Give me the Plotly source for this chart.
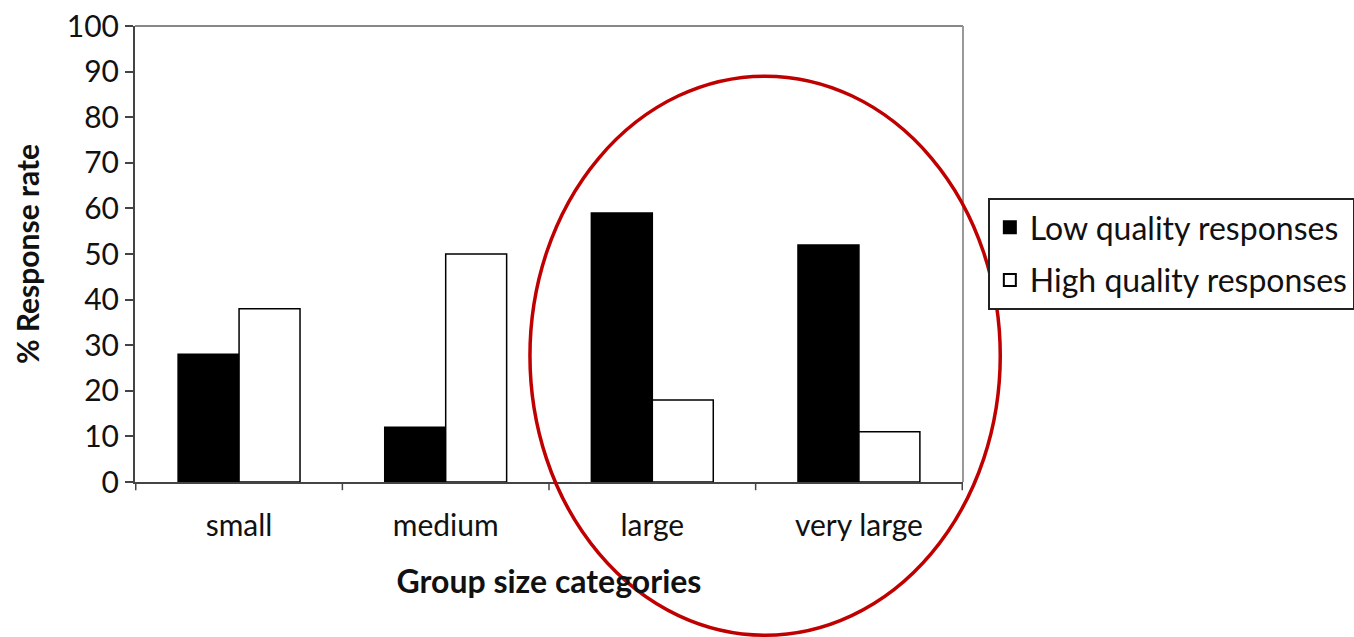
import plotly.graph_objects as go

categories = ["small", "medium", "large", "very large"]
low_quality = [28, 12, 59, 52]
high_quality = [38, 50, 18, 11]
y_ticks = [0, 10, 20, 30, 40, 50, 60, 70, 80, 90, 100]

FONT = "Lato, 'Open Sans', sans-serif"

fig = go.Figure()
fig.add_trace(go.Bar(x=categories, y=low_quality, name="Low quality responses",
                     legendgroup="low",
                     marker=dict(color="black", line=dict(color="black", width=1.5))))
fig.add_trace(go.Bar(x=categories, y=high_quality, name="High quality responses",
                     legendgroup="high",
                     marker=dict(color="white", line=dict(color="black", width=1.5))))

fig.update_layout(
    width=1354, height=637,
    margin=dict(l=135, r=391, t=26, b=155, autoexpand=False),
    plot_bgcolor="white", paper_bgcolor="white",
    barmode="group", bargap=0.41, bargroupgap=0,
    font=dict(family=FONT, color="#111", size=28),
    showlegend=True,
    legend=dict(x=1.03, y=0.5, xanchor="left", yanchor="middle",
                bordercolor="#222", borderwidth=2, bgcolor="white",
                font=dict(size=32, family=FONT), traceorder="grouped",
                tracegroupgap=8, itemsizing="constant"),
    xaxis=dict(showline=True, linecolor="#444", linewidth=2,
               ticks="", showgrid=False, tickfont=dict(size=30),
               ticklabelstandoff=16,
               title=dict(text="<b>Group size categories</b>", font=dict(size=32), standoff=30)),
    yaxis=dict(range=[0, 100], tickvals=y_ticks, showline=True, linecolor="#444", linewidth=2,
               ticks="outside", ticklen=8, tickcolor="#444", tickwidth=2,
               showgrid=False, zeroline=False, tickfont=dict(size=30),
               title=dict(text="<b>% Response rate</b>", font=dict(size=30), standoff=18)),
)

# category boundary tick marks below x axis
for i in range(len(categories) + 1):
    fig.add_shape(type="line", xref="x", yref="paper", x0=i - 0.5, x1=i - 0.5,
                  y0=0, y1=-0.018, line=dict(color="#444", width=1.5))

# top and right frame lines (gray)
fig.add_shape(type="line", xref="paper", yref="paper", x0=0, x1=1, y0=1, y1=1,
              line=dict(color="#888", width=2))
fig.add_shape(type="line", xref="paper", yref="paper", x0=1, x1=1, y0=0, y1=1,
              line=dict(color="#999", width=2))

# red ellipse annotation
fig.add_shape(type="circle", xref="paper", yref="paper",
              x0=0.477, x1=1.045, y0=-0.336, y1=0.890,
              line=dict(color="#C00000", width=3.5), layer="above")

fig.write_html("out.html")
